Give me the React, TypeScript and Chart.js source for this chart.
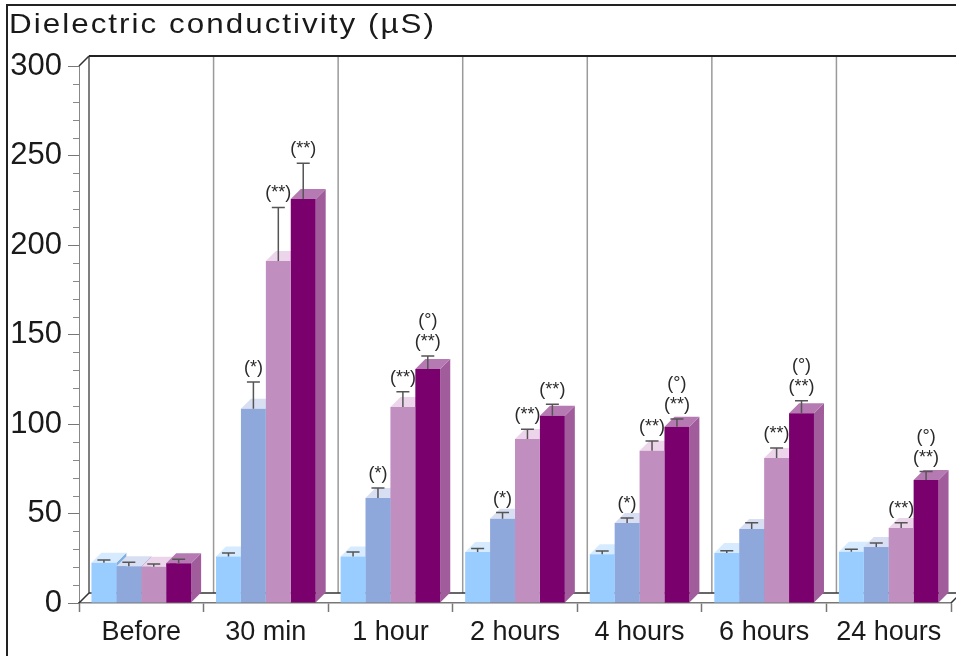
import React, { useEffect, useRef } from 'react';
import { Chart, registerables } from 'chart.js';

Chart.register(...registerables);

const titleText = 'Dielectric conductivity (µS)';
const categories = ['Before', '30 min', '1 hour', '2 hours', '4 hours', '6 hours', '24 hours'];

const group1 = [22.5, 26, 26, 28.5, 27.3, 27.9, 28.7];
const group1Err = [1.5, 2, 2.5, 2, 1.7, 1.3, 1.3];
const group2 = [20.5, 108.5, 58.7, 47, 44.7, 41.3, 31.3];
const group2Err = [2.3, 15, 5.5, 3.5, 2.8, 3.6, 2.2];
const group3 = [20.3, 191, 109.5, 91.6, 85, 81, 41.9];
const group3Err = [1.5, 30, 8.5, 5.4, 5.5, 5.6, 3];
const group4 = [22.2, 225.7, 130.7, 104.6, 98.5, 106, 68.7];
const group4Err = [2.2, 20, 7.3, 6.4, 4.3, 7, 4.7];

const group1Marks: string[][] = [[], [], [], [], [], [], []];
const group2Marks: string[][] = [[], ['(*)'], ['(*)'], ['(*)'], ['(*)'], [], []];
const group3Marks: string[][] = [[], ['(**)'], ['(**)'], ['(**)'], ['(**)'], ['(**)'], ['(**)']];
const group4Marks: string[][] = [[], ['(**)'], ['(°)', '(**)'], ['(**)'], ['(°)', '(**)'], ['(°)', '(**)'], ['(°)', '(**)']];

const yMin = 0;
const yMax = 300;
const yStep = 50;
const yMinorStep = 10;

const frontColors = ['#99CCFF', '#8FA8DC', '#C08FBF', '#7A006E'];
const topColors = ['#D6EBFF', '#D8DFF3', '#ECD5EB', '#B57AB2'];
const sideColors = ['#7FB0E0', '#7A92C4', '#A878A7', '#A05C9B'];

const errors = [group1Err, group2Err, group3Err, group4Err];
const marks = [group1Marks, group2Marks, group3Marks, group4Marks];

const DX = 10;
const DY = 10;
const FONT = '"Liberation Sans", Arial, sans-serif';

const decorPlugin = {
  id: 'decor3d',
  beforeDraw(chart: any) {
    const { ctx, width, height } = chart;
    ctx.save();
    ctx.fillStyle = '#ffffff';
    ctx.fillRect(0, 0, width, height);
    // outer frame
    ctx.strokeStyle = '#222';
    ctx.lineWidth = 2;
    ctx.beginPath();
    ctx.moveTo(7, height);
    ctx.lineTo(7, 5);
    ctx.lineTo(width, 5);
    ctx.stroke();
    // title (slightly widened, as in the reference)
    ctx.fillStyle = '#1a1a1a';
    ctx.font = `28px ${FONT}`;
    ctx.textAlign = 'left';
    ctx.textBaseline = 'alphabetic';
    const sx = 1.12;
    const w = ctx.measureText(titleText).width * sx;
    const spacing = Math.max(0, (425 - w) / (titleText.length - 1) / sx);
    ctx.translate(9, 33);
    ctx.scale(sx, 1);
    (ctx as any).letterSpacing = `${spacing}px`;
    ctx.fillText(titleText, 0, 0);
    (ctx as any).letterSpacing = '0px';
    ctx.restore();
  },
  beforeDatasetsDraw(chart: any) {
    const { ctx, chartArea: ca, scales, width } = chart;
    const x = scales.x;
    const y = scales.y;
    const y0 = y.getPixelForValue(yMin);
    const yT = y.getPixelForValue(yMax);
    ctx.save();
    // back gridlines at category boundaries
    ctx.strokeStyle = '#9a9a9a';
    ctx.lineWidth = 1.5;
    for (let i = 1; i <= categories.length; i++) {
      const bx = x.getPixelForValue(i - 0.5) + DX;
      ctx.beginPath();
      ctx.moveTo(bx, yT - DY);
      ctx.lineTo(bx, y0 - DY);
      ctx.stroke();
    }
    // back wall left edge
    ctx.strokeStyle = '#555';
    ctx.lineWidth = 1.5;
    ctx.beginPath();
    ctx.moveTo(ca.left + DX, yT - DY);
    ctx.lineTo(ca.left + DX, y0 - DY);
    ctx.stroke();
    // back wall top edge
    ctx.strokeStyle = '#222';
    ctx.lineWidth = 2;
    ctx.beginPath();
    ctx.moveTo(ca.left + DX, yT - DY);
    ctx.lineTo(width, yT - DY);
    ctx.stroke();
    // back floor edge
    ctx.strokeStyle = '#333';
    ctx.lineWidth = 1.5;
    ctx.beginPath();
    ctx.moveTo(ca.left + DX, y0 - DY);
    ctx.lineTo(width, y0 - DY);
    ctx.stroke();
    // diagonals
    ctx.strokeStyle = '#333';
    ctx.lineWidth = 1.5;
    ctx.beginPath();
    ctx.moveTo(ca.left, yT);
    ctx.lineTo(ca.left + DX, yT - DY);
    ctx.moveTo(ca.left, y0);
    ctx.lineTo(ca.left + DX, y0 - DY);
    ctx.moveTo(ca.right, y0);
    ctx.lineTo(ca.right + DX, y0 - DY);
    ctx.stroke();
    // minor ticks
    ctx.strokeStyle = '#888';
    ctx.lineWidth = 1;
    for (let v = yMin; v <= yMax; v += yMinorStep) {
      if (v % yStep === 0) continue;
      const py = Math.round(y.getPixelForValue(v)) + 0.5;
      ctx.beginPath();
      ctx.moveTo(ca.left - 6, py);
      ctx.lineTo(ca.left, py);
      ctx.stroke();
    }
    // 3D faces
    const metas = chart.data.datasets.map((_: any, d: number) => chart.getDatasetMeta(d));
    for (let j = 0; j < categories.length; j++) {
      for (let d = 0; d < metas.length; d++) {
        const el = metas[d].data[j];
        if (!el) continue;
        const p = el.getProps(['x', 'y', 'base', 'width'], true);
        const l = p.x - p.width / 2;
        const r = p.x + p.width / 2;
        const t = p.y;
        const b = p.base;
        ctx.fillStyle = sideColors[d];
        ctx.beginPath();
        ctx.moveTo(r, t);
        ctx.lineTo(r + DX, t - DY);
        ctx.lineTo(r + DX, b - DY);
        ctx.lineTo(r, b);
        ctx.closePath();
        ctx.fill();
        ctx.fillStyle = topColors[d];
        ctx.beginPath();
        ctx.moveTo(l, t);
        ctx.lineTo(r, t);
        ctx.lineTo(r + DX, t - DY);
        ctx.lineTo(l + DX, t - DY);
        ctx.closePath();
        ctx.fill();
      }
    }
    ctx.restore();
  },
  afterDatasetsDraw(chart: any) {
    const { ctx, scales } = chart;
    const y = scales.y;
    ctx.save();
    ctx.strokeStyle = '#555';
    ctx.lineWidth = 1.5;
    ctx.fillStyle = '#2a2a2a';
    ctx.font = `18px ${FONT}`;
    ctx.textAlign = 'center';
    ctx.textBaseline = 'alphabetic';
    chart.data.datasets.forEach((ds: any, d: number) => {
      const meta = chart.getDatasetMeta(d);
      meta.data.forEach((el: any, j: number) => {
        const p = el.getProps(['x', 'y'], true);
        const ye = y.getPixelForValue(ds.data[j] + errors[d][j]);
        ctx.beginPath();
        ctx.moveTo(p.x, p.y);
        ctx.lineTo(p.x, ye);
        ctx.moveTo(p.x - 6.5, ye);
        ctx.lineTo(p.x + 6.5, ye);
        ctx.stroke();
        const lines = marks[d][j];
        for (let k = 0; k < lines.length; k++) {
          const off = (lines.length - 1 - k) * 21;
          ctx.fillText(lines[k], p.x, ye - 9 - off);
        }
      });
    });
    ctx.restore();
  },
};

export default function App() {
  const canvasRef = useRef<HTMLCanvasElement | null>(null);

  useEffect(() => {
    if (!canvasRef.current) return;
    const chart = new Chart(canvasRef.current, {
      type: 'bar',
      data: {
        labels: categories,
        datasets: [
          { label: 'Group 1', data: group1, backgroundColor: frontColors[0], borderWidth: 0 },
          { label: 'Group 2', data: group2, backgroundColor: frontColors[1], borderWidth: 0 },
          { label: 'Group 3', data: group3, backgroundColor: frontColors[2], borderWidth: 0 },
          { label: 'Group 4', data: group4, backgroundColor: frontColors[3], borderWidth: 0 },
        ],
      },
      options: {
        responsive: false,
        animation: false,
        devicePixelRatio: 1,
        layout: { padding: { top: 66, right: 5, left: 0, bottom: 0 } },
        datasets: { bar: { categoryPercentage: 0.8, barPercentage: 1 } },
        plugins: {
          legend: { display: false },
          tooltip: { enabled: false },
          title: { display: false },
        },
        scales: {
          x: {
            type: 'category',
            offset: true,
            grid: {
              offset: true,
              drawOnChartArea: false,
              drawTicks: true,
              tickLength: 9,
              tickColor: '#777',
              tickWidth: 1.5,
            },
            border: { display: true, color: '#777', width: 1.5 },
            ticks: {
              color: '#1a1a1a',
              font: { family: FONT, size: 27 },
              padding: 4,
              maxRotation: 0,
              autoSkip: false,
            },
            afterFit: (scale: any) => {
              scale.height = 53;
            },
          },
          y: {
            min: yMin,
            max: yMax,
            grid: {
              drawOnChartArea: false,
              drawTicks: true,
              tickLength: 11,
              tickColor: '#777',
              tickWidth: 1,
            },
            border: { display: true, color: '#888', width: 1 },
            ticks: {
              stepSize: yStep,
              color: '#1a1a1a',
              font: { family: FONT, size: 31 },
              padding: 6,
            },
            afterFit: (scale: any) => {
              scale.width = 79;
            },
          },
        },
      },
      plugins: [decorPlugin],
    });
    return () => chart.destroy();
  }, []);

  return (
    <div style={{ position: 'fixed', left: 0, top: 0, width: 956, height: 656, background: '#fff' }}>
      <canvas ref={canvasRef} width={956} height={656} style={{ display: 'block' }} />
    </div>
  );
}
